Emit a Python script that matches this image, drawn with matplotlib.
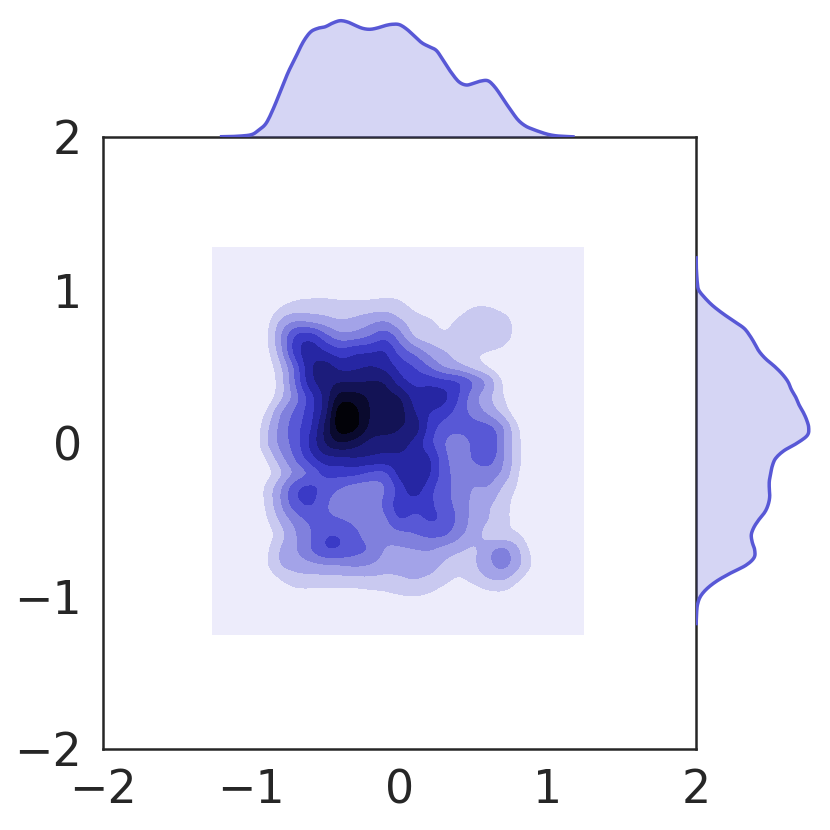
import numpy as np
import matplotlib
matplotlib.use("Agg")
import matplotlib.pyplot as plt

# density, as contour level at each node
grid_x = [-1.0, -0.9, -0.8, -0.7, -0.6, -0.5, -0.4, -0.3, -0.2, -0.1, 0.0,
          0.1, 0.2, 0.3, 0.4, 0.5, 0.6, 0.7, 0.8, 0.9, 1.0]
grid_y = [1.0, 0.9, 0.8, 0.7, 0.6, 0.5, 0.4, 0.3, 0.2, 0.1, 0.0,
          -0.1, -0.2, -0.3, -0.4, -0.5, -0.6, -0.7, -0.8, -0.9, -1.0]
density = [
    [0, 0, .2, .4, .5, .5, .4, .4, .5, .6, .6, .3, .1, 0, 0, .1, .1, 0, 0, 0, 0],
    [0, .1, .8, 1.3, 1.4, 1.4, 1.3, 1.3, 1.3, 1.4, 1.2, .7, .4, .3, .5, .9, .9, .5, .1, 0, 0],
    [0, .5, 2.1, 2.8, 2.6, 2.3, 2.0, 2.2, 2.6, 2.9, 2.1, 1.4, 1.1, .8, 1.1, 1.5, 1.6, 1.4, .5, 0, 0],
    [0, .7, 2.9, 5.1, 5.5, 4.2, 3.3, 3.4, 3.9, 4.6, 3.4, 1.8, 1.4, 1.1, 1.3, 1.6, 1.6, 1.5, .5, 0, 0],
    [0, .6, 2.6, 5.5, 6.6, 5.9, 5.3, 5.7, 5.8, 6.0, 4.5, 3.6, 2.6, 2.0, 1.6, 1.1, 1.0, .7, 0, 0, 0],
    [0, .3, 1.8, 4.3, 6.8, 7.4, 6.6, 6.7, 7.0, 6.6, 5.6, 4.9, 3.9, 2.8, 2.2, 1.5, .8, .1, 0, 0, 0],
    [0, .2, 1.5, 4.1, 6.6, 7.5, 7.9, 7.9, 8.0, 7.9, 6.4, 5.7, 5.6, 5.3, 5.0, 3.9, 2.7, .8, 0, 0, 0],
    [0, .2, 1.7, 3.5, 5.5, 7.3, 9.4, 9.4, 8.8, 8.4, 8.0, 6.5, 6.6, 6.3, 4.9, 3.3, 2.2, 1.0, 0, 0, 0],
    [0, 1.0, 2.9, 4.2, 5.6, 7.5, 10.7, 10.3, 8.9, 8.6, 8.4, 7.0, 6.0, 5.4, 4.5, 3.6, 2.7, 1.6, .2, 0, 0],
    [0, 1.6, 3.3, 4.6, 5.8, 8.2, 10.5, 10.2, 8.7, 8.5, 8.0, 7.6, 5.6, 4.5, 4.3, 4.4, 4.3, 3.0, 1.0, 0, 0],
    [0, 1.8, 3.3, 4.5, 6.2, 8.0, 8.9, 8.4, 7.6, 7.3, 7.5, 6.6, 5.3, 4.0, 3.4, 4.2, 5.05, 3.0, 1.2, 0, 0],
    [0, 1.0, 2.6, 4.1, 5.5, 6.6, 6.7, 6.9, 6.8, 6.7, 6.7, 6.5, 6.1, 4.3, 3.4, 4.1, 4.5, 3.0, 1.3, 0, 0],
    [0, .5, 1.8, 3.2, 4.1, 5.2, 5.3, 5.2, 4.7, 4.6, 6.3, 7.1, 6.1, 4.4, 3.6, 3.4, 3.5, 2.7, 1.0, 0, 0],
    [0, 1.2, 2.9, 4.8, 5.3, 4.5, 3.9, 3.4, 3.4, 3.9, 5.3, 6.5, 5.3, 4.3, 3.6, 2.9, 2.9, 1.7, .8, 0, 0],
    [0, 1.1, 2.9, 4.6, 5.1, 4.1, 3.5, 3.3, 3.2, 4.2, 5.5, 5.5, 5.2, 4.4, 3.6, 2.7, 2.1, 1.4, .5, 0, 0],
    [0, .8, 2.2, 3.4, 4.2, 4.2, 4.0, 3.7, 3.5, 3.7, 5.0, 4.6, 5.1, 4.8, 3.7, 2.6, 2.0, 1.4, .4, 0, 0],
    [0, .4, 1.6, 2.9, 3.9, 4.9, 4.9, 4.2, 3.5, 3.3, 3.6, 3.9, 4.2, 4.1, 3.2, 2.4, 1.6, 1.3, 1.1, .1, 0],
    [0, .7, 2.1, 2.9, 3.9, 4.9, 4.85, 4.3, 3.9, 2.9, 2.8, 2.9, 3.0, 2.5, 2.1, 1.8, 2.7, 3.3, 2.1, .6, 0],
    [0, .8, 2.0, 2.3, 2.6, 2.8, 2.9, 3.1, 2.9, 2.4, 2.3, 2.2, 2.4, 1.8, 1.4, 1.8, 2.7, 3.3, 2.2, .8, 0],
    [0, .1, .9, 1.5, 1.5, 1.5, 1.5, 1.5, 1.6, 1.6, 1.8, 2.0, 1.7, 1.2, .8, 1.2, 1.8, 1.9, 1.0, .1, 0],
    [0, 0, .1, .4, .5, .5, .5, .5, .6, .7, .9, 1.0, .8, .4, .1, .2, .5, .6, .2, 0, 0],
]
level_colors = ["#edecfb", "#c9c9f0", "#a3a3e8", "#8080dd", "#5858d6", "#3a3ac6",
                "#2626a3", "#1c1c7b", "#131355", "#0a0a2e", "#020208"]

# top marginal
top_x = [-1.2, -1.1, -1.0, -.95, -.9, -.85, -.8, -.75, -.7, -.65, -.6, -.55, -.5, -.45, -.4,
         -.35, -.3, -.25, -.2, -.15, -.1, -.05, 0, .05, .1, .15, .2, .25, .3, .35, .4, .45,
         .5, .55, .6, .65, .7, .75, .8, .85, .9, .95, 1.0, 1.05, 1.1, 1.17]
top_h = [.0015, .0035, .0115, .035, .0685, .1435, .235, .325, .40, .475, .525, .5435, .5515,
         .57, .5815, .575, .5585, .5435, .5385, .545, .5565, .5635, .5615, .5385, .505, .4715,
         .4515, .4315, .3765, .3215, .2765, .26, .2685, .28, .28, .2435, .1885, .135, .085,
         .055, .0385, .025, .0135, .0065, .0035, .001]

# right marginal
right_y = [1.21, 1.15, 1.1, 1.05, 1.0, .95, .9, .85, .8, .75, .7, .65, .6, .55, .5, .45, .4,
           .35, .3, .25, .2, .15, .1, .05, 0, -.05, -.1, -.15, -.2, -.25, -.3, -.35, -.4, -.45,
           -.5, -.55, -.6, -.65, -.7, -.75, -.8, -.85, -.9, -.95, -1.0, -1.05, -1.1, -1.18]
right_h = [.001, .0015, .0035, .0065, .0135, .0435, .0815, .13, .185, .24, .27, .2935, .315,
           .3485, .3935, .4315, .46, .4765, .4985, .515, .5365, .5535, .5635, .5565, .5065,
           .44, .3985, .3815, .3735, .3665, .3665, .3685, .3615, .345, .315, .29, .2765, .2815,
           .2935, .29, .2485, .1735, .1065, .0565, .0235, .0085, .0035, .001]

line_color = "#5858d6"
text_color = "#262626"


def catmull_rom(z, n):
    # cubic through the nodes along axis 0
    t = np.arange(0, z.shape[0] - 1 + 1 / n, 1 / n)
    i = np.minimum(t.astype(int), z.shape[0] - 2)
    f = (t - i)[:, None]
    p0 = z[np.clip(i - 1, 0, None)]
    p1 = z[i]
    p2 = z[i + 1]
    p3 = z[np.clip(i + 2, None, z.shape[0] - 1)]
    return 0.5 * (2 * p1 + (p2 - p0) * f + (2 * p0 - 5 * p1 + 4 * p2 - p3) * f ** 2
                  + (3 * p1 - p0 - 3 * p2 + p3) * f ** 3)


def soften(z, k):
    # light blur along axis 1, takes the corners off the contours
    return np.apply_along_axis(lambda r: np.convolve(r, k, mode="same"), 1, z)


W = 830.0
fig = plt.figure(figsize=(4.15, 4.15), dpi=200)
ax = fig.add_axes([103 / W, 1 - 749 / W, 593 / W, 612 / W])
ax_top = fig.add_axes([103 / W, 1 - 137 / W, 593 / W, 124 / W])
ax_right = fig.add_axes([696 / W, 1 - 749 / W, 124 / W, 612 / W])

pad = 4
z = np.pad(np.array(density, dtype=float), pad)
gx = np.r_[np.arange(-pad, 0) * 0.1 - 1.0, grid_x, 1.0 + np.arange(1, pad + 1) * 0.1]
gy = np.r_[1.0 - np.arange(-pad, 0) * 0.1, grid_y, -1.0 - np.arange(1, pad + 1) * 0.1]
n = 12
zf = catmull_rom(catmull_rom(z, n).T, n).T
xf = catmull_rom(gx[:, None], n)[:, 0]
yf = catmull_rom(gy[:, None], n)[:, 0]
kern = np.exp(-0.5 * (np.arange(-9, 10) / 3.0) ** 2)
kern = kern / kern.sum()
zf = soften(soften(zf, kern).T, kern).T
keep_x = (xf >= -1.262) & (xf <= 1.246)
keep_y = (yf >= -1.256) & (yf <= 1.279)
zf = np.clip(zf[np.ix_(keep_y, keep_x)], 0, None)

ax.contourf(xf[keep_x], yf[keep_y], zf, levels=[-1, 1, 2, 3, 4, 5, 6, 7, 8, 9, 10, 12],
            colors=level_colors)
ax.set_xlim(-2, 2)
ax.set_ylim(-2, 2)
ax.set_xticks([-2, -1, 0, 1, 2])
ax.set_yticks([-2, -1, 0, 1, 2])
ax.tick_params(length=0, labelsize=16.5, labelcolor=text_color)
ax.tick_params(axis="x", pad=7)
ax.tick_params(axis="y", pad=7.5)
for s in ax.spines.values():
    s.set_linewidth(0.9)
    s.set_color(text_color)

# marginals, curves run through the values that were read
tx = catmull_rom(np.array(top_x)[:, None], 6)[:, 0]
th = np.clip(catmull_rom(np.array(top_h)[:, None], 6)[:, 0], 0, None)
ax_top.fill_between(tx, 0, th, color=line_color, alpha=0.25, lw=0)
ax_top.plot(tx, th, color=line_color, lw=1.25)
ax_top.set_xlim(-2, 2)
ax_top.set_ylim(0, 0.62)
ax_top.axis("off")

ry = catmull_rom(np.array(right_y)[:, None], 6)[:, 0]
rh = np.clip(catmull_rom(np.array(right_h)[:, None], 6)[:, 0], 0, None)
ax_right.fill_betweenx(ry, 0, rh, color=line_color, alpha=0.25, lw=0)
ax_right.plot(rh, ry, color=line_color, lw=1.25)
ax_right.set_ylim(-2, 2)
ax_right.set_xlim(0, 0.62)
ax_right.axis("off")

fig.savefig("out.png", dpi=200)
